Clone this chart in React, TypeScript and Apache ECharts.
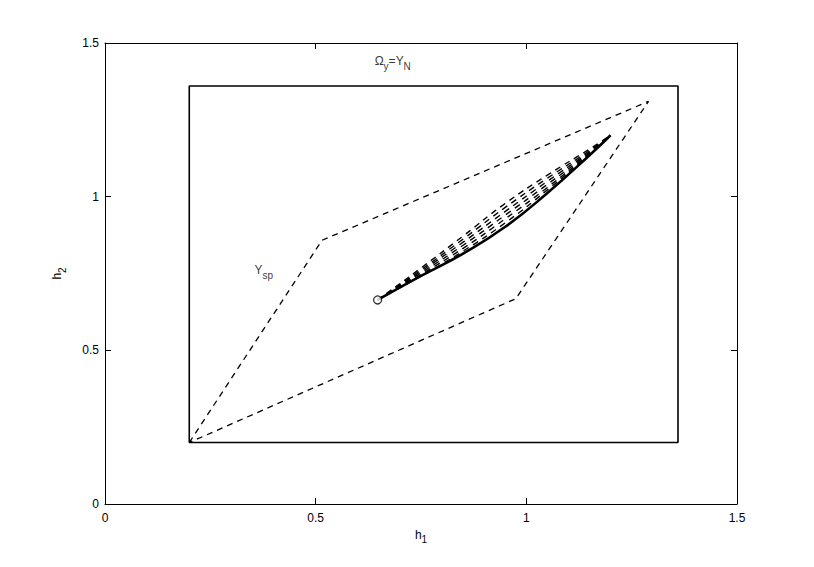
import React, { useEffect, useRef } from "react";
import * as echarts from "echarts";

const xTicks = [0, 0.5, 1, 1.5];
const yTicks = [0, 0.5, 1, 1.5];

const boxX = [0.2, 1.36, 1.36, 0.2, 0.2];
const boxY = [0.2, 0.2, 1.36, 1.36, 0.2];

const yspX = [0.2, 0.515, 1.29, 0.975, 0.2];
const yspY = [0.2, 0.858, 1.31, 0.668, 0.2];

const trajX = [0.647, 0.75, 0.85, 0.95, 1.05, 1.15, 1.2];
const solidY = [0.664, 0.742, 0.815, 0.902, 1.012, 1.135, 1.2];
const dash1Y = [0.664, 0.768, 0.872, 0.978, 1.07, 1.155, 1.2];
const dash2Y = [0.664, 0.762, 0.862, 0.965, 1.06, 1.15, 1.2];
const dash3Y = [0.664, 0.757, 0.852, 0.952, 1.05, 1.146, 1.2];
const dash4Y = [0.664, 0.752, 0.842, 0.94, 1.04, 1.143, 1.2];
const dash5Y = [0.664, 0.747, 0.832, 0.928, 1.03, 1.14, 1.2];
const dash6Y = [0.664, 0.742, 0.823, 0.915, 1.022, 1.138, 1.2];

const startPoint = [0.647, 0.664];
const omegaLabelPos = [0.64, 1.44];
const yspLabelPos = [0.355, 0.76];

const FONT = "Liberation Sans";

function zip(xs: number[], ys: number[]) {
  return xs.map((x, i) => [x, ys[i]]);
}

const rich = {
  m: { fontFamily: FONT, fontSize: 12, color: "#000" },
  s: { fontFamily: FONT, fontSize: 10, color: "#000", padding: [10, 0, 0, 0] },
};

export default function App() {
  const ref = useRef<HTMLDivElement>(null);
  useEffect(() => {
    if (!ref.current) return;
    const chart = echarts.init(ref.current, null, { renderer: "svg" });
    const dashed = [dash1Y, dash2Y, dash3Y, dash4Y, dash5Y, dash6Y].map((ys) => ({
      type: "line",
      data: zip(trajX, ys),
      smooth: true,
      symbol: "none",
      lineStyle: { color: "#000", width: 1.4, type: [6, 5] },
      z: 3,
    }));
    const axisCommon = {
      min: 0,
      max: 1.5,
      interval: 0.5,
      splitLine: { show: false },
      axisLine: { show: true, onZero: false, lineStyle: { color: "#000", width: 1 } },
      axisTick: { show: true, inside: true, length: 6, lineStyle: { color: "#000" } },
    };
    chart.setOption({
      animation: false,
      backgroundColor: "#fff",
      grid: { left: 105, right: 77, top: 43, bottom: 63, containLabel: false },
      xAxis: [
        {
          type: "value",
          position: "bottom",
          ...axisCommon,
          axisLabel: {
            color: "#000",
            fontFamily: FONT,
            fontSize: 12,
            margin: 8,
            formatter: (v: number) => (xTicks.includes(v) ? String(v) : ""),
          },
          name: "{m|h}{s|1}",
          nameLocation: "middle",
          nameGap: 20,
          nameTextStyle: { rich },
        },
        {
          type: "value",
          position: "top",
          ...axisCommon,
          axisLabel: { show: false },
        },
      ],
      yAxis: [
        {
          type: "value",
          position: "left",
          ...axisCommon,
          axisLabel: {
            color: "#000",
            fontFamily: FONT,
            fontSize: 12,
            margin: 6,
            formatter: (v: number) => (yTicks.includes(v) ? String(v) : ""),
          },
          name: "{m|h}{s|2}",
          nameLocation: "middle",
          nameGap: 38,
          nameRotate: 90,
          nameTextStyle: { rich },
        },
        {
          type: "value",
          position: "right",
          ...axisCommon,
          axisLabel: { show: false },
        },
      ],
      series: [
        {
          type: "line",
          data: zip(boxX, boxY),
          symbol: "none",
          lineStyle: { color: "#000", width: 1.6 },
          z: 2,
        },
        {
          type: "line",
          data: zip(yspX, yspY),
          symbol: "none",
          lineStyle: { color: "#000", width: 1.3, type: [6, 5] },
          z: 2,
        },
        ...dashed,
        {
          type: "line",
          data: zip(trajX, solidY),
          smooth: true,
          symbol: "none",
          lineStyle: { color: "#000", width: 2.6 },
          z: 4,
        },
        {
          type: "scatter",
          data: [startPoint],
          symbol: "circle",
          symbolSize: 8,
          itemStyle: { color: "#fff", borderColor: "#000", borderWidth: 1.3 },
          z: 5,
        },
        {
          type: "scatter",
          data: [omegaLabelPos],
          symbolSize: 0,
          label: {
            show: true,
            position: "right",
            offset: [-5, 0],
            formatter: "{m|Ω}{s|y}{m|=Y}{s|N}",
            rich,
          },
          z: 6,
        },
        {
          type: "scatter",
          data: [yspLabelPos],
          symbolSize: 0,
          label: {
            show: true,
            position: "right",
            offset: [-5, 0],
            formatter: "{m|Y}{s|sp}",
            rich,
          },
          z: 6,
        },
      ],
    });
    return () => chart.dispose();
  }, []);
  return <div ref={ref} style={{ width: 814, height: 567, position: "absolute", left: 0, top: 0 }} />;
}
